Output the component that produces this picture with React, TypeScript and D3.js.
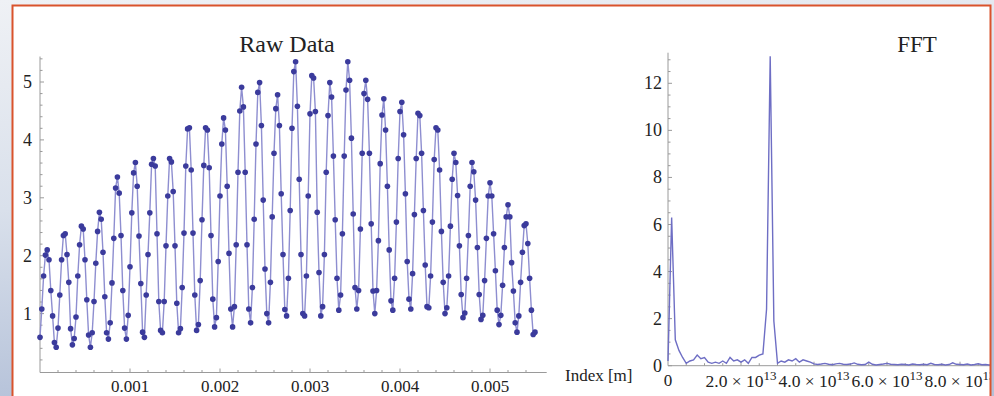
import React from 'react';
import * as d3 from 'd3';

// raw samples, one every 2e-5
const rawStep = 0.00002;
const rawValues = [
  0.59, 1.08, 1.65, 2.01, 2.10, 1.93, 1.40, 0.96, 0.50, 0.42, 0.75, 1.32, 1.93, 2.35, 2.38, 2.02,
  1.54, 0.74, 0.46, 0.57, 0.94, 1.65, 2.19, 2.51, 2.46, 1.93, 1.24, 0.63, 0.42, 0.67, 1.21, 1.87,
  2.42, 2.75, 2.63, 2.06, 1.29, 0.67, 0.56, 0.84, 1.53, 2.30, 3.17, 3.36, 3.08, 2.35, 1.40,
  0.75, 0.56, 0.97, 1.81, 2.74, 3.43, 3.61, 3.20, 2.34, 1.52, 0.68, 0.59, 1.32, 2.02, 2.74, 3.58,
  3.68, 3.55, 2.38, 1.21, 0.71, 0.67, 1.21, 2.17, 3.03, 3.68, 3.62, 3.11, 2.17, 1.18, 0.67, 0.74,
  1.45, 2.39, 3.55, 4.19, 4.21, 3.48, 2.39, 1.32, 0.71, 0.81, 1.57, 2.62,
  3.56, 4.21, 4.17, 3.52, 2.35, 1.25, 0.77, 0.93, 1.90, 3.03, 3.93, 4.38, 4.17, 3.20, 2.04, 1.08,
  0.77, 1.12, 2.19, 3.44, 4.50, 4.91, 4.57, 3.44, 2.19, 1.08, 0.84, 1.45, 2.63, 3.93, 4.82, 4.99,
  4.25, 2.96, 1.77, 1.00, 0.84, 1.54, 2.67, 3.77, 4.54, 4.78, 4.25, 3.07, 2.02,
  1.07, 0.96, 1.61, 2.78, 4.20, 5.18, 5.35, 4.58, 3.32, 2.02, 1.00, 0.96, 1.65, 3.03, 4.45, 5.11,
  5.07, 4.49, 2.75, 1.71, 0.96, 1.12, 2.02, 3.44, 4.42, 4.99, 4.74, 3.72, 2.62, 1.61, 1.06, 1.32,
  2.38, 3.72, 4.86, 5.35, 5.03, 4.03, 2.72, 1.45, 1.08, 1.40, 2.46, 3.77, 4.80, 5.03, 4.70,
  3.77, 2.55, 1.39, 1.00, 1.40, 2.26, 3.59, 4.43, 4.71, 4.17, 3.20, 2.10, 1.22, 1.06, 1.61, 2.58,
  3.68, 4.49, 4.65, 4.09, 3.07, 1.90, 1.25, 1.08, 1.69, 2.71, 3.68, 4.46, 4.42, 3.77, 2.78, 1.84,
  1.12, 1.10, 1.65, 2.58, 3.66, 4.21, 4.17, 3.48, 2.42, 1.54, 1.00, 1.10, 1.65, 2.51,
  3.32, 3.77, 3.61, 3.04, 2.17, 1.33, 0.93, 1.01, 1.61, 2.35, 3.20, 3.61, 3.45, 2.96, 2.14, 1.33,
  0.90, 0.97, 1.57, 2.30, 3.03, 3.26, 3.03, 2.38, 1.74, 1.06, 0.81, 0.97, 1.49, 2.14, 2.67, 2.88,
  2.67, 1.88, 1.39, 0.84, 0.68, 0.96, 1.54, 2.06, 2.52, 2.55, 2.21, 1.61, 1.06, 0.64, 0.68,
];
const rawYTicks = [1, 2, 3, 4, 5];
const rawXTicks = [0.001, 0.002, 0.003, 0.004, 0.005];
const rawXLabels = ['0.001', '0.002', '0.003', '0.004', '0.005'];

// fft magnitudes, bins of 1e12
const fftStep = 1e12;
const fftValues = [
  0.2, 6.3, 1.1, 0.65, 0.35, 0.1, 0.2, 0.25, 0.45, 0.3, 0.35, 0.15, 0.1, 0.15, 0.1, 0.2,
  0.1, 0.35, 0.2, 0.25, 0.15, 0.25, 0.1, 0.35, 0.35, 0.45, 0.5, 2.4, 13.15, 1.9, 0.1, 0.2,
  0.15, 0.25, 0.2, 0.3, 0.15, 0.25, 0.2, 0.15, 0.08, 0.05, 0.07, 0.1, 0.06, 0.04, 0.08, 0.1,
  0.06, 0.05, 0.07, 0.12, 0.06, 0.04, 0.05, 0.15, 0.06, 0.03, 0.05, 0.07, 0.1, 0.06, 0.05, 0.04,
  0.06, 0.05, 0.03, 0.07, 0.05, 0.04, 0.06, 0.04, 0.1, 0.05, 0.04, 0.06, 0.03, 0.05, 0.12, 0.06,
  0.05, 0.04, 0.07, 0.03, 0.05, 0.08, 0.04, 0.05, 0.03, 0.05,
];
const fftYTicks = [0, 2, 4, 6, 8, 10, 12];
const fftXTicks = [2e13, 4e13, 6e13, 8e13];
const fftXMantissa = ['2.0', '4.0', '6.0', '8.0'];

const serif = '"Liberation Serif", "Times New Roman", serif';
const axisColor = '#9a9a9a';
const textColor = '#222';

export default function App() {
  // left: raw data
  const xRaw = d3.scaleLinear().domain([0, 0.005]).range([40, 490]);
  const yRaw = d3.scaleLinear().domain([0, 5]).range([371.5, 82]);
  const rawPts: [number, number][] = rawValues.map((v, i) => [i * rawStep, v]);
  const rawLine = d3.line<[number, number]>().x(d => xRaw(d[0])).y(d => yRaw(d[1]));
  const rawAxisY = 372.5;
  const rawMinorY = d3.range(0.2, 5.41, 0.2).filter(t => Math.abs(t - Math.round(t)) > 0.01);
  const rawMinorX = d3.range(0.0002, 0.0056, 0.0002).filter(t => Math.abs(t * 1000 - Math.round(t * 1000)) > 0.01);

  // right: fft
  const xFft = d3.scaleLinear().domain([0, 2e13]).range([668, 741]);
  const yFft = d3.scaleLinear().domain([0, 12]).range([365.7, 83.3]);
  const fftPts: [number, number][] = fftValues.map((v, i) => [i * fftStep, v]);
  const fftLine = d3.line<[number, number]>().x(d => xFft(d[0])).y(d => yFft(d[1]));
  const fftMinorY = d3.range(0.5, 13.3, 0.5).filter(t => t % 2 !== 0);
  const fftMinorX = d3.range(0.5e13, 9e13, 0.5e13).filter(t => Math.abs((t / 2e13) - Math.round(t / 2e13)) > 0.01);

  return (
    <svg width={994} height={396} style={{ position: 'absolute', left: 0, top: 0, display: 'block' }}>
      <defs>
        <linearGradient id="bg" x1="0" y1="0" x2="0.25" y2="1">
          <stop offset="0" stopColor="#eff1f5" />
          <stop offset="0.5" stopColor="#d9e0eb" />
          <stop offset="1" stopColor="#b3c0d8" />
        </linearGradient>
        <clipPath id="inner">
          <rect x={13} y={6} width={977} height={390} />
        </clipPath>
      </defs>
      <rect x={0} y={0} width={994} height={396} fill="url(#bg)" />
      <rect x={12.5} y={5.5} width={978} height={400} fill="#fff" />

      <g clipPath="url(#inner)" fontFamily={serif} fill={textColor}>
        {/* Raw Data */}
        <text x={287} y={52} textAnchor="middle" fontSize={24}>Raw Data</text>
        <line x1={40} x2={40} y1={rawAxisY} y2={yRaw(5.44)} stroke={axisColor} />
        <line x1={40} x2={xRaw(0.00563)} y1={rawAxisY} y2={rawAxisY} stroke={axisColor} />
        {rawMinorY.map(t => (
          <line key={'rmy' + t} x1={40} x2={42.5} y1={yRaw(t)} y2={yRaw(t)} stroke={axisColor} />
        ))}
        {rawYTicks.map(t => (
          <g key={'ry' + t}>
            <line x1={40} x2={44} y1={yRaw(t)} y2={yRaw(t)} stroke={axisColor} />
            <text x={32} y={yRaw(t) + 6} textAnchor="end" fontSize={18}>{t}</text>
          </g>
        ))}
        {rawMinorX.map(t => (
          <line key={'rmx' + t} x1={xRaw(t)} x2={xRaw(t)} y1={rawAxisY} y2={rawAxisY - 2.5} stroke={axisColor} />
        ))}
        {rawXTicks.map((t, i) => (
          <g key={'rx' + t}>
            <line x1={xRaw(t)} x2={xRaw(t)} y1={rawAxisY} y2={rawAxisY - 4} stroke={axisColor} />
            <text x={xRaw(t)} y={392} textAnchor="middle" fontSize={17}>{rawXLabels[i]}</text>
          </g>
        ))}
        <text x={565} y={381} fontSize={17}>Index [m]</text>
        <path d={rawLine(rawPts) || ''} fill="none" stroke="#8e8ed0" strokeWidth={1.4} />
        {rawPts.map((d, i) => (
          <circle key={'p' + i} cx={xRaw(d[0])} cy={yRaw(d[1])} r={2.8} fill="#3b3b9c" />
        ))}

        {/* FFT */}
        <text x={917} y={52} textAnchor="middle" fontSize={23}>FFT</text>
        <line x1={668} x2={668} y1={yFft(0)} y2={yFft(13.3)} stroke={axisColor} />
        <line x1={668} x2={994} y1={yFft(0)} y2={yFft(0)} stroke={axisColor} />
        {fftMinorY.map(t => (
          <line key={'fmy' + t} x1={668} x2={670.5} y1={yFft(t)} y2={yFft(t)} stroke={axisColor} />
        ))}
        {fftYTicks.map(t => (
          <g key={'fy' + t}>
            <line x1={668} x2={672} y1={yFft(t)} y2={yFft(t)} stroke={axisColor} />
            <text x={662} y={yFft(t) + 6} textAnchor="end" fontSize={18}>{t}</text>
          </g>
        ))}
        {fftMinorX.map(t => (
          <line key={'fmx' + t} x1={xFft(t)} x2={xFft(t)} y1={yFft(0)} y2={yFft(0) - 2.5} stroke={axisColor} />
        ))}
        <text x={xFft(0)} y={386} textAnchor="middle" fontSize={17}>0</text>
        {fftXTicks.map((t, i) => (
          <g key={'fx' + t}>
            <line x1={xFft(t)} x2={xFft(t)} y1={yFft(0)} y2={yFft(0) - 4} stroke={axisColor} />
            <text x={xFft(t)} y={387} textAnchor="middle" fontSize={17.5}>
              {fftXMantissa[i]}{' × 10'}
              <tspan dy={-7} fontSize={13}>13</tspan>
            </text>
          </g>
        ))}
        <path d={fftLine(fftPts) || ''} fill="none" stroke="#6e6ec4" strokeWidth={1.4} />
      </g>

      <rect x={12.5} y={5.5} width={978} height={400} fill="none" stroke="#d9532c" strokeWidth={2} />
    </svg>
  );
}
